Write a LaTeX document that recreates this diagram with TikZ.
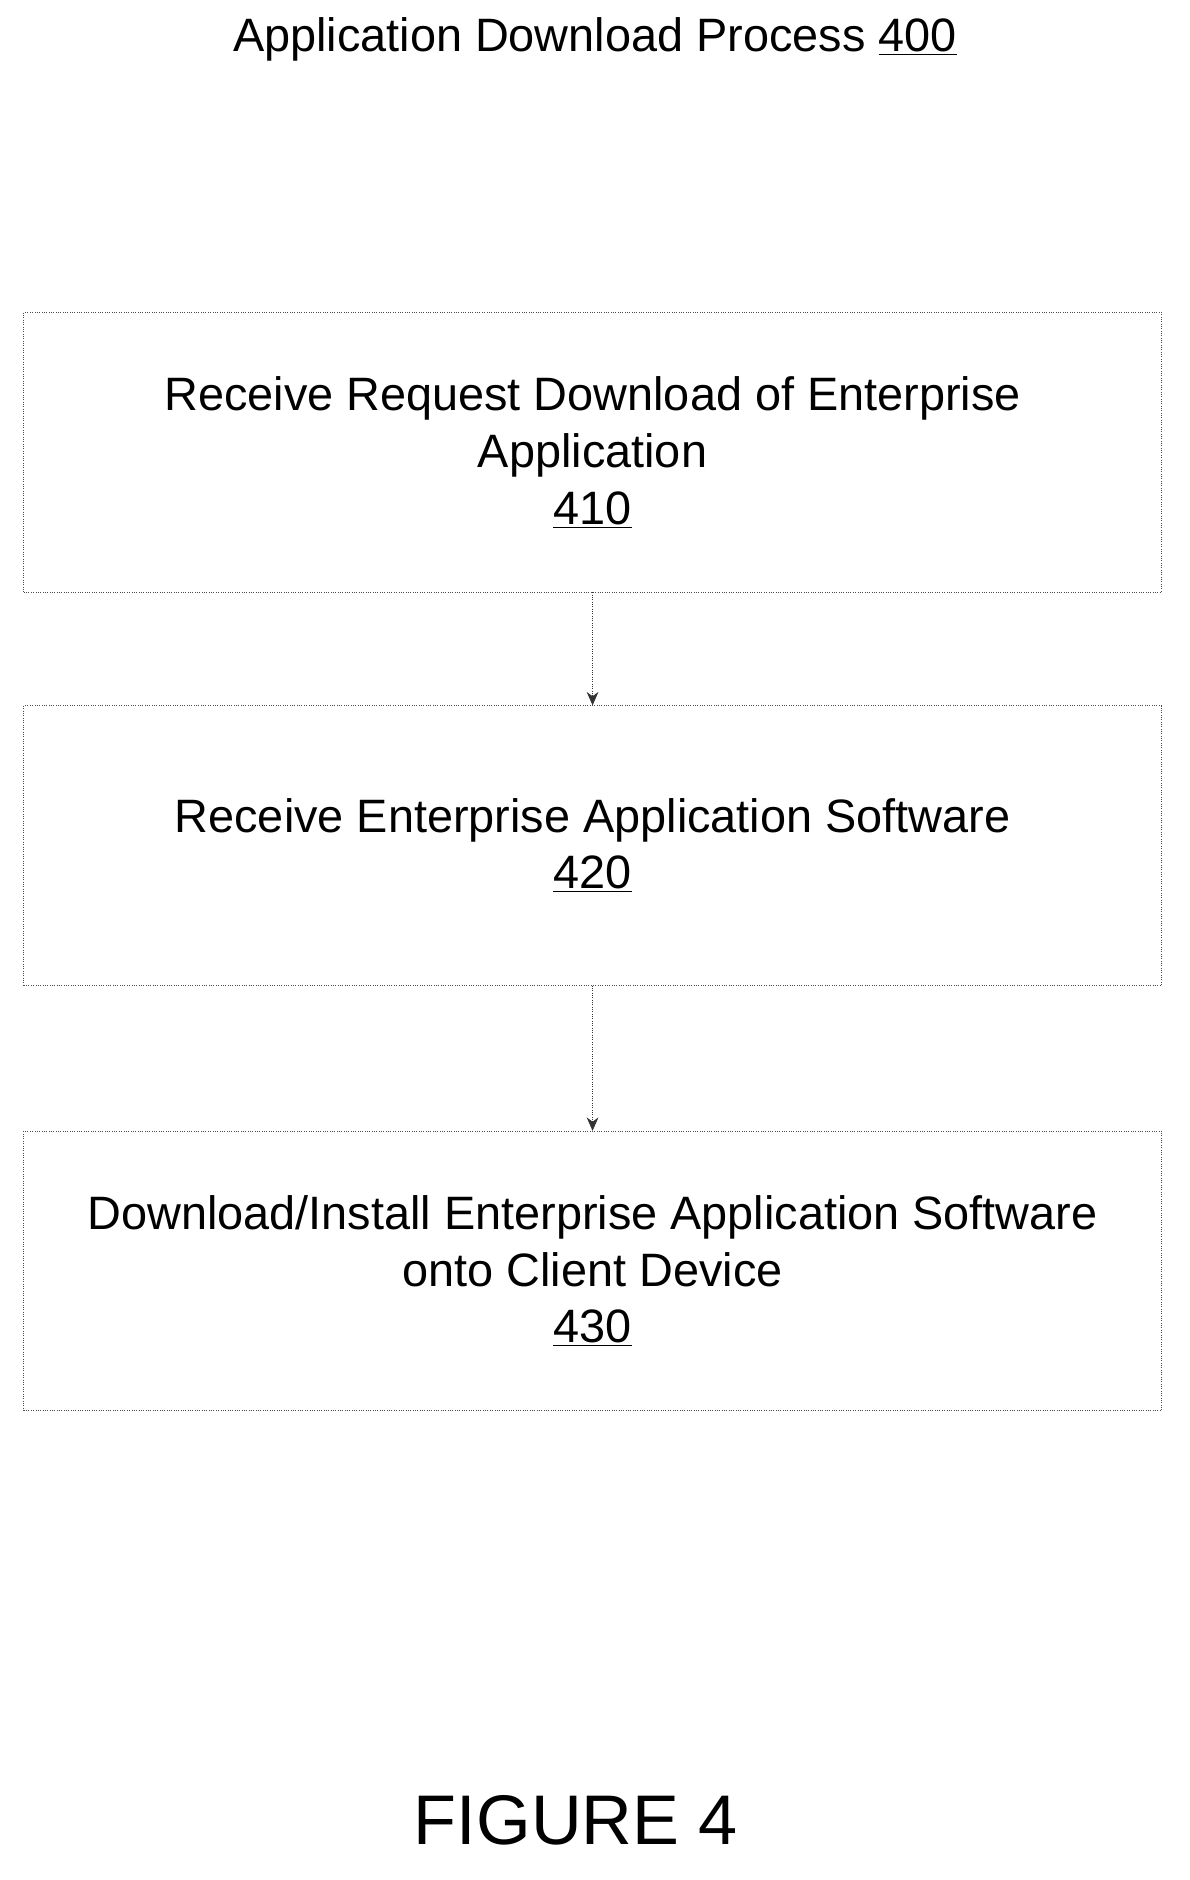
\documentclass[tikz,border=0pt]{standalone}
\usepackage{fontspec}
\setmainfont{Liberation Sans}
\usetikzlibrary{positioning,arrows.meta}
\tikzset{
  stepbox/.style={draw=black!70, densely dotted, minimum width=23.9cm,
    minimum height=5.875cm, align=center, font=\fontsize{28}{34}\selectfont},
  flow/.style={densely dotted, black!80, -{Stealth[length=8pt,width=7pt]}}
}
\newcommand{\refnum}[1]{\underline{#1}}

\begin{document}
\begin{tikzpicture}

  \useasboundingbox (0, 0) rectangle (25, -39.5);

  \node[font=\fontsize{28}{34}\selectfont] (title) at (12.5, -0.83)
    {Application Download Process \refnum{400}};

  \node[stepbox] (b410) at (12.45, -9.5)
    {Receive Request Download of Enterprise\\Application\\\refnum{410}};
  \node[stepbox, below=2.375cm of b410] (b420)
    {Receive Enterprise Application Software\\\refnum{420}};
  \node[stepbox, below=3.05cm of b420] (b430)
    {Download/Install Enterprise Application Software\\onto Client Device\\\refnum{430}};

  \draw[flow] (b410) -- (b420);
  \draw[flow] (b420) -- (b430);

  \node[font=\fontsize{42}{48}\selectfont] (fig) at (12.1, -38.25) {FIGURE 4};

\end{tikzpicture}
\end{document}
